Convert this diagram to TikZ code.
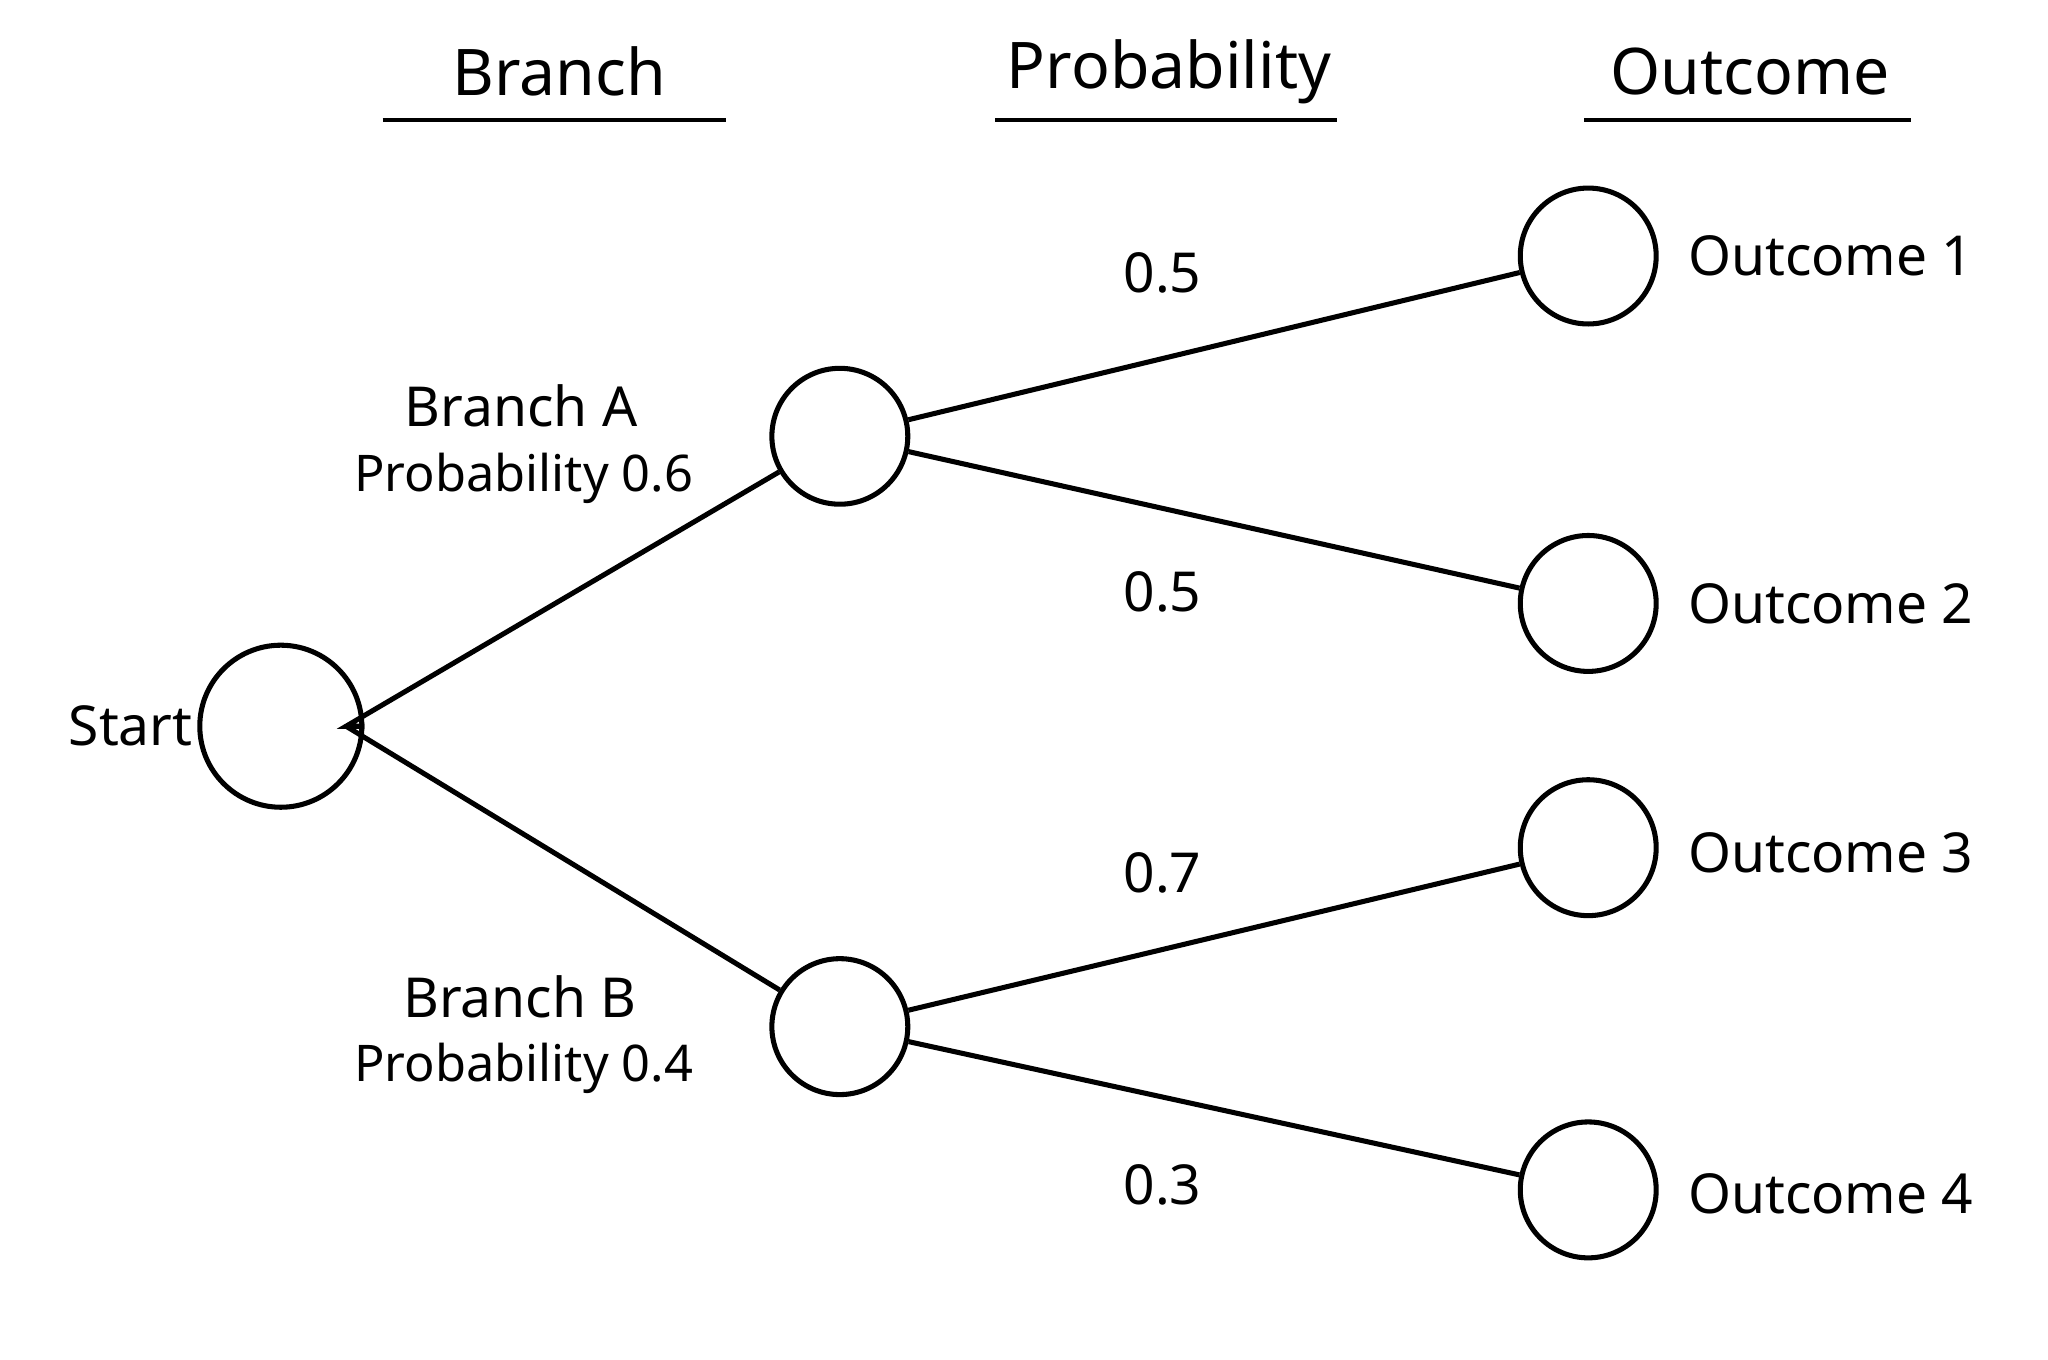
\documentclass[tikz,border=0pt]{standalone}
\usepackage{fontspec}
\setmainfont{Noto Sans}
\begin{document}
\begin{tikzpicture}[x=0.01cm,y=-0.01cm,
  circ/.style={circle,draw,line width=1.1pt,inner sep=0pt},
  big/.style={circ,minimum size=1.24cm},
  sm/.style={circ,minimum size=1.04cm},
  edge/.style={line width=1.1pt},
  hdr/.style={font=\fontsize{14}{16}\selectfont\bfseries},
  lab/.style={font=\fontsize{12}{14}\selectfont\bfseries},
  sub/.style={font=\fontsize{11}{13}\selectfont},
  rule/.style={line width=1pt}]
\useasboundingbox[fill=white] (0,0) rectangle (1568,1041);
% headers
\node[hdr] (h1) at (428,55) {Branch};
\node[hdr] (h2) at (895,55) {Probability};
\node[hdr] (h3) at (1340,55) {Outcome};
\coordinate (r1a) at (293,92); \coordinate (r1b) at (556,92);
\coordinate (r2a) at (762,92); \coordinate (r2b) at (1024,92);
\coordinate (r3a) at (1213,92); \coordinate (r3b) at (1463,92);
\draw[rule] (r1a) -- (r1b); \draw[rule] (r2a) -- (r2b); \draw[rule] (r3a) -- (r3b);
% nodes
\node[big] (s) at (215,556) {};
\coordinate (j) at (265,556);
\node[sm] (a) at (643,334) {};
\node[sm] (b) at (643,786) {};
\node[sm] (o1) at (1216,196) {};
\node[sm] (o2) at (1216,462) {};
\node[sm] (o3) at (1216,649) {};
\node[sm] (o4) at (1216,911) {};
\draw[edge] (s) -- (j) -- (a);
\draw[edge] (j) -- (b);
\draw[edge] (a) -- (o1); \draw[edge] (a) -- (o2);
\draw[edge] (b) -- (o3); \draw[edge] (b) -- (o4);
% labels
\node[lab] (ls) at (100,556) {Start};
\node[lab] (la) at (399,311) {Branch A};
\node[sub] (pa) at (401,366) {Probability 0.6};
\node[lab] (lb) at (398,763) {Branch B};
\node[sub] (pb) at (401,818) {Probability 0.4};
\node[lab] (p1) at (890,209) {0.5};
\node[lab] (p2) at (890,453) {0.5};
\node[lab] (p3) at (890,668) {0.7};
\node[lab] (p4) at (890,907) {0.3};
\node[lab,anchor=west] (t1) at (1280,196) {Outcome 1};
\node[lab,anchor=west] (t2) at (1280,462) {Outcome 2};
\node[lab,anchor=west] (t3) at (1280,653) {Outcome 3};
\node[lab,anchor=west] (t4) at (1280,914) {Outcome 4};
\end{tikzpicture}
\end{document}
